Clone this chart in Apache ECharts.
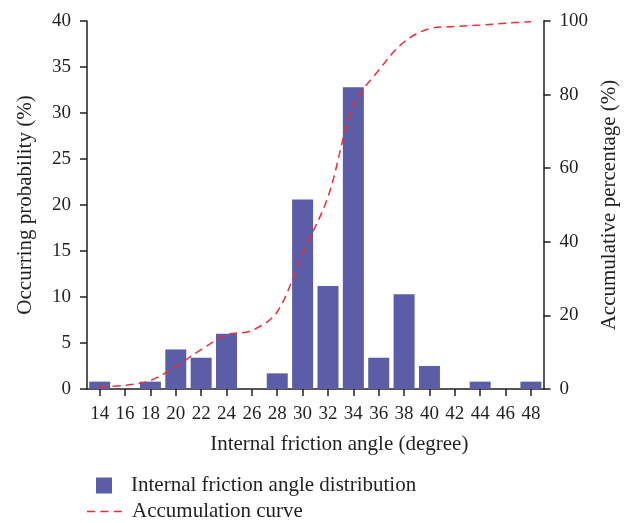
<!DOCTYPE html>
<html>
<head>
<meta charset="utf-8">
<script src="https://cdn.jsdelivr.net/npm/echarts@6/dist/echarts.min.js"></script>
<style>
html, body { margin: 0; padding: 0; background: #fff; }
#main { width: 628px; height: 523px; }
</style>
</head>
<body>
<div id="main"></div>
<script>
var angles = ['14', '16', '18', '20', '22', '24', '26', '28', '30', '32', '34', '36', '38', '40', '42', '44', '46', '48'];
var probability = [0.8, 0, 0.8, 4.3, 3.4, 6.0, 0, 1.7, 20.6, 11.2, 32.8, 3.4, 10.3, 2.5, 0, 0.8, 0, 0.8];
var accumulation = [0.7, 1.0, 2.3, 6.1, 10.7, 14.7, 15.9, 21.0, 36.9, 52.2, 77.0, 86.6, 94.3, 97.9, 98.5, 98.9, 99.4, 99.8];

var font = 'Liberation Serif';
var ink = '#231f20';
var barColor = '#5b5ea6';
var curveColor = '#e8303a';

function display() {
	var myChart = echarts.init(document.getElementById('main'));

	var axisLine = { show: true, lineStyle: { color: ink, width: 1.5 } };
	var axisTick = { show: true, length: 7, lineStyle: { color: ink, width: 1.5 } };
	var nameStyle = { color: ink, fontFamily: font, fontSize: 21 };

	var option = {
		animation: false,
		grid: { left: 87, right: 83, top: 21, bottom: 134 },
		legend: [
			{
				data: ['Internal friction angle distribution'],
				left: 96, top: 475, padding: 0,
				itemWidth: 16, itemHeight: 16,
				icon: 'rect',
				textStyle: { color: ink, fontFamily: font, fontSize: 21, padding: [0, 0, 0, 14] }
			},
			{
				data: ['Accumulation curve'],
				left: 87, top: 501, padding: 0,
				itemWidth: 35, itemHeight: 21,
				icon: 'path://M0,0h8v1.6h-8z M13,0h8v1.6h-8z M26,0h8v1.6h-8z',
				itemStyle: { color: curveColor },
				textStyle: { color: ink, fontFamily: font, fontSize: 21, padding: [0, 0, 0, 5] }
			}
		],
		xAxis: {
			type: 'category',
			data: angles,
			name: 'Internal friction angle (degree)',
			nameLocation: 'middle',
			nameGap: 45,
			nameTextStyle: { color: ink, fontFamily: font, fontSize: 21, padding: [0, 0, 0, 48] },
			axisLine: axisLine,
			axisTick: { show: true, alignWithLabel: true, length: 7, lineStyle: { color: ink, width: 1.5 } },
			axisLabel: { color: ink, fontFamily: font, fontSize: 19, margin: 16, interval: 0 },
			splitLine: { show: false }
		},
		yAxis: [
			{
				type: 'value',
				min: 0, max: 40, interval: 5,
				name: 'Occurring probability (%)',
				nameLocation: 'middle',
				nameGap: 51,
				nameTextStyle: nameStyle,
				axisLine: axisLine,
				axisTick: axisTick,
				axisLabel: { color: ink, fontFamily: font, fontSize: 19, margin: 16 },
				splitLine: { show: false }
			},
			{
				type: 'value',
				min: 0, max: 100, interval: 20,
				name: 'Accumulative percentage (%)',
				nameLocation: 'middle',
				nameGap: 51,
				nameTextStyle: nameStyle,
				axisLine: axisLine,
				axisTick: axisTick,
				axisLabel: { color: ink, fontFamily: font, fontSize: 19, margin: 16 },
				splitLine: { show: false }
			}
		],
		series: [
			{
				name: 'Internal friction angle distribution',
				type: 'bar',
				data: probability,
				barWidth: 21,
				itemStyle: { color: barColor }
			},
			{
				name: 'Accumulation curve',
				type: 'line',
				yAxisIndex: 1,
				data: accumulation,
				smooth: 0.35,
				symbol: 'none',
				itemStyle: { color: curveColor },
				lineStyle: { color: curveColor, width: 1.5, type: [8, 5] }
			}
		]
	};

	myChart.setOption(option);
}

display();
</script>
</body>
</html>
